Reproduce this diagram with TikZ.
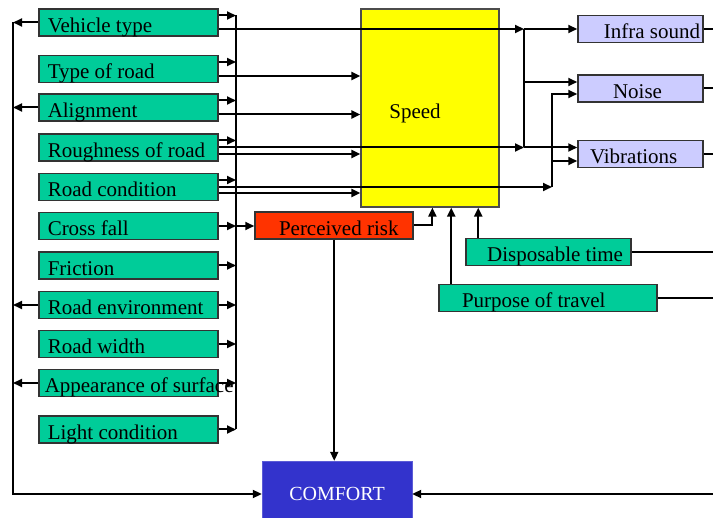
\documentclass[tikz,border=0pt]{standalone}
\usepackage{fontspec}
\setmainfont{Liberation Serif}
\usetikzlibrary{arrows.meta,calc}
\definecolor{grn}{RGB}{0,204,153}
\definecolor{lav}{RGB}{204,204,255}
\definecolor{yel}{RGB}{255,255,0}
\definecolor{rsk}{RGB}{255,51,0}
\definecolor{cblue}{RGB}{51,51,204}
\newcommand{\lt}[2][9pt]{\makebox[179pt][l]{\hspace{#1}#2}}
\begin{document}
\begin{tikzpicture}[x=1pt,y=-1pt,
  every node/.style={font=\fontsize{21}{24}\selectfont},
  box/.style={draw=black!80, line width=1.5pt, inner sep=0pt, minimum height=27pt, text height=23pt, text depth=3pt},
  gbox/.style={box, fill=grn, anchor=west},
  lbox/.style={box, fill=lav},
  ln/.style={line width=2pt, black},
  arr/.style={ln, -{Triangle[length=9pt,width=8pt]}}]
\fill[white] (0,0) rectangle (713,518);
\useasboundingbox (0,0) rectangle (713,518);

% Speed
\node[draw=black!70, line width=1.2pt, fill=yel, minimum width=138pt, minimum height=198pt, inner sep=0pt] (sp) at (430,108) {};
\node[anchor=base, inner sep=0pt] (spt) at (415,119) {Speed};

% left boxes
\node[gbox] (vt) at (38,22.5) {\lt{Vehicle type}};
\node[gbox] (tr) at (38,69) {\lt{Type of road}};
\node[gbox] (al) at (38,107.5) {\lt{Alignment}};
\node[gbox] (rr) at (38,147.5) {\lt{Roughness of road}};
\node[gbox] (rc) at (38,187) {\lt{Road condition}};
\node[gbox] (cf) at (38,226) {\lt{Cross fall}};
\node[gbox] (fr) at (38,265.5) {\lt{Friction}};
\node[gbox] (re) at (38,305) {\lt{Road environment}};
\node[gbox] (rw) at (38,344) {\lt{Road width}};
\node[gbox] (as) at (38,383) {\lt[6pt]{Appearance of surface}};
\node[gbox] (lc) at (38,429.5) {\lt{Light condition}};

% right boxes
\node[lbox] (is) at (640.5,29) {\makebox[125pt][r]{Infra sound\hspace{3pt}}};
\node[lbox] (no) at (640.5,88.5) {\makebox[125pt][c]{Noise\hspace{6pt}}};
\node[lbox] (vi) at (640.5,154) {\makebox[125pt][l]{\hspace{12pt}Vibrations}};
\node[box, fill=grn] (dt) at (548.5,252) {\makebox[165pt][r]{Disposable time\hspace{8pt}}};
\node[box, fill=grn] (pt) at (548,298) {\makebox[218pt][l]{\hspace{23pt}Purpose of travel}};
\node[box, fill=rsk] (pr) at (334,225.5) {\makebox[158pt][l]{\hspace{24pt}Perceived risk}};
\node[draw=cblue!80!white, fill=cblue, text=white, inner sep=0pt, minimum width=150pt, minimum height=66pt, font=\fontsize{20}{24}\selectfont] (cm) at (337,494) {COMFORT};

% bus coordinates
\coordinate (lb) at (13,0);
\coordinate (rb) at (236,0);
\coordinate (b1) at (524,0);
\coordinate (b2) at (552,0);
\coordinate (edge) at (713,0);

% left feedback bus
\foreach \n in {vt,al,re,as} \draw[arr] (\n.west) -- (\n.west -| lb);
\draw[arr] (vt.west -| lb) |- (cm.west);

% right collecting bus
\foreach \n in {vt,tr,al,rr,rc} \draw[arr] ($(\n.east)+(0,-7)$) coordinate (u\n) -- (u\n -| rb);
\foreach \n in {fr,re,rw,as,lc} \draw[arr] (\n.east) -- (\n.east -| rb);
\draw[arr] (cf.east) -- (cf.east -| rb);
\draw[arr] (cf.east -| rb) -- (cf.east -| pr.west);
\draw[ln] (uvt -| rb) -- (lc.east -| rb);

% inputs to Speed
\draw[arr] ($(tr.east)+(0,7)$) coordinate (t1) -- (t1 -| sp.west);
\draw[arr] ($(al.east)+(0,7)$) coordinate (a1) -- (a1 -| sp.west);
\draw[arr] ($(rr.east)+(0,6.5)$) coordinate (r2) -- (r2 -| sp.west);
\draw[arr] ($(rc.east)+(0,6)$) coordinate (c2) -- (c2 -| sp.west);

% through lines to outputs
\coordinate (n1) at ($(no.west)+(0,-6.5)$);
\coordinate (n2) at ($(no.west)+(0,5.5)$);
\coordinate (w2) at ($(vi.west)+(0,7)$);
\draw[arr] ($(vt.east)+(0,6.5)$) coordinate (v1) -- (v1 -| b1);
\draw[arr] (v1 -| b1) -- (v1 -| is.west);
\draw[arr] (rr.east) -- (rr.east -| b1);
\draw[arr] (rr.east -| b1) -- (rr.east -| vi.west);
\draw[ln] (v1 -| b1) -- (rr.east -| b1);
\draw[arr] (b1 |- n1) -- (n1);
\draw[arr] (rc.east) -- (rc.east -| b2);
\draw[arr] (rc.east -| b2) |- (n2);
\draw[arr] (b2 |- w2) -- (w2);

% outputs to the right edge
\foreach \n in {is,no,vi,dt,pt} \draw[ln] (\n.east) -- (\n.east -| edge);
\draw[arr] (edge |- cm.east) -- (cm.east);

% bottom inputs to Speed
\draw[arr] (pr.east) -| ($(sp.south west)+(72,0)$);
\coordinate (d1) at ($(dt.north west)+(13,0)$);
\draw[arr] (d1) -- (d1 |- sp.south);
\coordinate (p1) at ($(pt.north west)+(13,0)$);
\draw[arr] (p1) -- (p1 |- sp.south);
\coordinate (q1) at ($(pr.south west)+(80,0)$);
\draw[arr] (q1) -- (q1 |- cm.north);
\end{tikzpicture}
\end{document}
